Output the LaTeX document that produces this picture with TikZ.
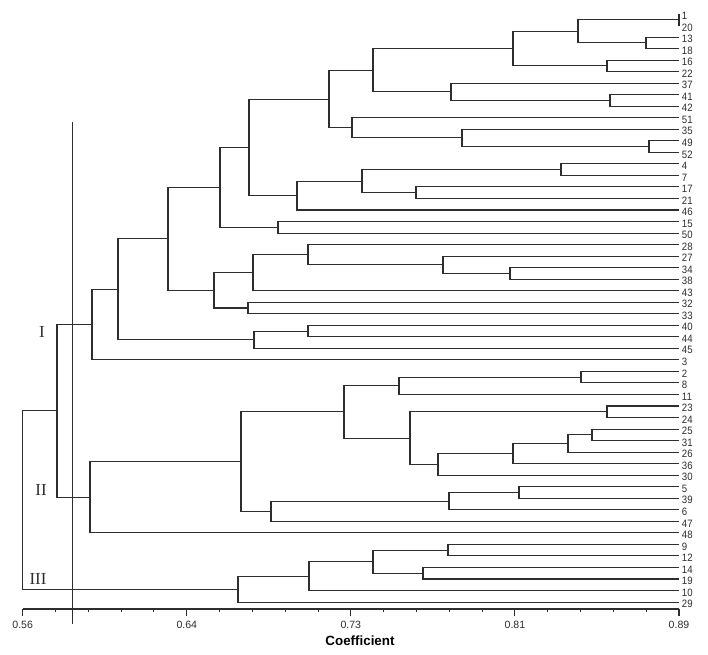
\documentclass[tikz,border=0pt]{standalone}
\usepackage{fontspec}
\setmainfont{Liberation Serif}
\setsansfont{Liberation Sans}
\newfontfamily\leaffont[FakeStretch=0.9]{Liberation Sans}
\usetikzlibrary{calc}
\definecolor{dgLine}{HTML}{2E2E2E}
\definecolor{dgWhite}{HTML}{FFFFFF}
\tikzset{
  dg-branch/.style={draw=dgLine, line width=0.75pt},
  dg-leaf/.style={anchor=west, inner sep=0.5pt, text=dgLine,
    font=\leaffont\fontsize{7.6}{8}\selectfont},
  dg-tick/.style={inner sep=1pt, text=dgLine,
    font=\sffamily\fontsize{7.5}{8}\selectfont},
  dg-title/.style={inner sep=1pt, text=black,
    font=\sffamily\bfseries\fontsize{9.5}{10}\selectfont},
  dg-group/.style={inner sep=1pt, text=dgLine,
    font=\fontsize{12}{12}\selectfont}
}
% merge point #1 at abscissa #2 joining #3 and #4
\newcommand{\dgmerge}[4]{%
  \path let \p1=(#3), \p2=(#4), \p3=(#2,0) in
    (\x3,{0.5*(\y1+\y2)}) coordinate (#1);
  \draw[dg-branch] (#3) -| (#1) |- (#4);
}

\begin{document}
\begin{tikzpicture}[x=0.025cm, y=-0.025cm]
\fill[dgWhite] (0,0) rectangle (708,655);
\useasboundingbox (0,0) rectangle (708,655);

% leaves and their labels
\foreach \lab [count=\i from 0] in {1,20,13,18,16,22,37,41,42,51,35,49,52,
  4,7,17,21,46,15,50,28,27,34,38,43,32,33,40,44,45,3,2,8,11,23,24,25,31,
  26,36,30,5,39,6,47,48,9,12,14,19,10,29}{
  \coordinate (L\lab) at (679,{14+11.53*\i});
  \node[dg-leaf] (t\lab) at (681,{16+11.53*\i}) {\lab};
}

% group I
\dgmerge{m1-20}{679}{L1}{L20}
\dgmerge{m13-18}{646}{L13}{L18}
\dgmerge{mA}{578}{m1-20}{m13-18}
\dgmerge{m16-22}{607}{L16}{L22}
\dgmerge{mB}{513}{mA}{m16-22}
\dgmerge{m41-42}{610}{L41}{L42}
\dgmerge{mD}{451}{L37}{m41-42}
\dgmerge{mC}{373}{mB}{mD}
\dgmerge{m49-52}{649}{L49}{L52}
\dgmerge{mG}{462}{L35}{m49-52}
\dgmerge{mF}{352}{L51}{mG}
\dgmerge{mE}{329}{mC}{mF}
\dgmerge{m4-7}{561}{L4}{L7}
\dgmerge{m17-21}{416}{L17}{L21}
\dgmerge{mJ}{362}{m4-7}{m17-21}
\dgmerge{mI}{297}{mJ}{L46}
\dgmerge{mH}{249}{mE}{mI}
\dgmerge{m15-50}{278}{L15}{L50}
\dgmerge{mL}{220}{mH}{m15-50}
\dgmerge{m34-38}{510}{L34}{L38}
\dgmerge{mQ}{443}{L27}{m34-38}
\dgmerge{mR}{308}{L28}{mQ}
\dgmerge{mO}{253}{mR}{L43}
\dgmerge{m32-33}{248}{L32}{L33}
\dgmerge{mN}{214}{mO}{m32-33}
\dgmerge{mM}{168}{mL}{mN}
\dgmerge{m40-44}{308}{L40}{L44}
\dgmerge{mT}{254}{m40-44}{L45}
\dgmerge{mS}{118}{mM}{mT}
\dgmerge{mI-grp}{92}{mS}{L3}

% group II
\dgmerge{m2-8}{581}{L2}{L8}
\dgmerge{mY1}{399}{m2-8}{L11}
\dgmerge{m23-24}{607}{L23}{L24}
\dgmerge{m25-31}{592}{L25}{L31}
\dgmerge{mY5}{568}{m25-31}{L26}
\dgmerge{mY4}{513}{mY5}{L36}
\dgmerge{mY3}{438}{mY4}{L30}
\dgmerge{mY2}{410}{m23-24}{mY3}
\dgmerge{mY}{344}{mY1}{mY2}
\dgmerge{m5-39}{519}{L5}{L39}
\dgmerge{mZ1}{449}{m5-39}{L6}
\dgmerge{mZ}{271}{mZ1}{L47}
\dgmerge{mX}{241}{mY}{mZ}
\dgmerge{mII-grp}{90}{mX}{L48}
\dgmerge{mW}{57}{mI-grp}{mII-grp}

% group III
\dgmerge{m9-12}{448}{L9}{L12}
\dgmerge{m14-19}{423}{L14}{L19}
\dgmerge{mK2}{373}{m9-12}{m14-19}
\dgmerge{mK1}{309}{mK2}{L10}
\dgmerge{mIII-grp}{238}{mK1}{L29}
\dgmerge{mRoot}{22.7}{mW}{mIII-grp}

% cut-off line and group names
\coordinate (cutTop) at (72.3,122);
\coordinate (cutBot) at (72.3,624);
\draw[dg-branch] (cutTop) -- (cutBot);
\node[dg-group] (gI) at (42,332) {I};
\node[dg-group] (gII) at (41,490) {II};
\node[dg-group] (gIII) at (38,579) {III};

% coefficient axis
\coordinate (ax0) at (22.7,609);
\coordinate (ax1) at (679,609);
\draw[dg-branch] (ax0) -- (ax1);
\foreach \k in {0,...,20}{
  \pgfmathsetmacro\len{mod(\k,5)==0 ? 7 : 3}
  \draw[dg-branch] ($(ax0)!\k/20!(ax1)$) -- ++(0,\len);
}
\foreach \v [count=\k from 0] in {0.56,0.64,0.73,0.81,0.89}
  \node[dg-tick] (v\k) at ({22.7+164.07*\k},625) {\v};
\node[dg-title] (axTitle) at (360,641) {Coefficient};
\end{tikzpicture}
\end{document}
